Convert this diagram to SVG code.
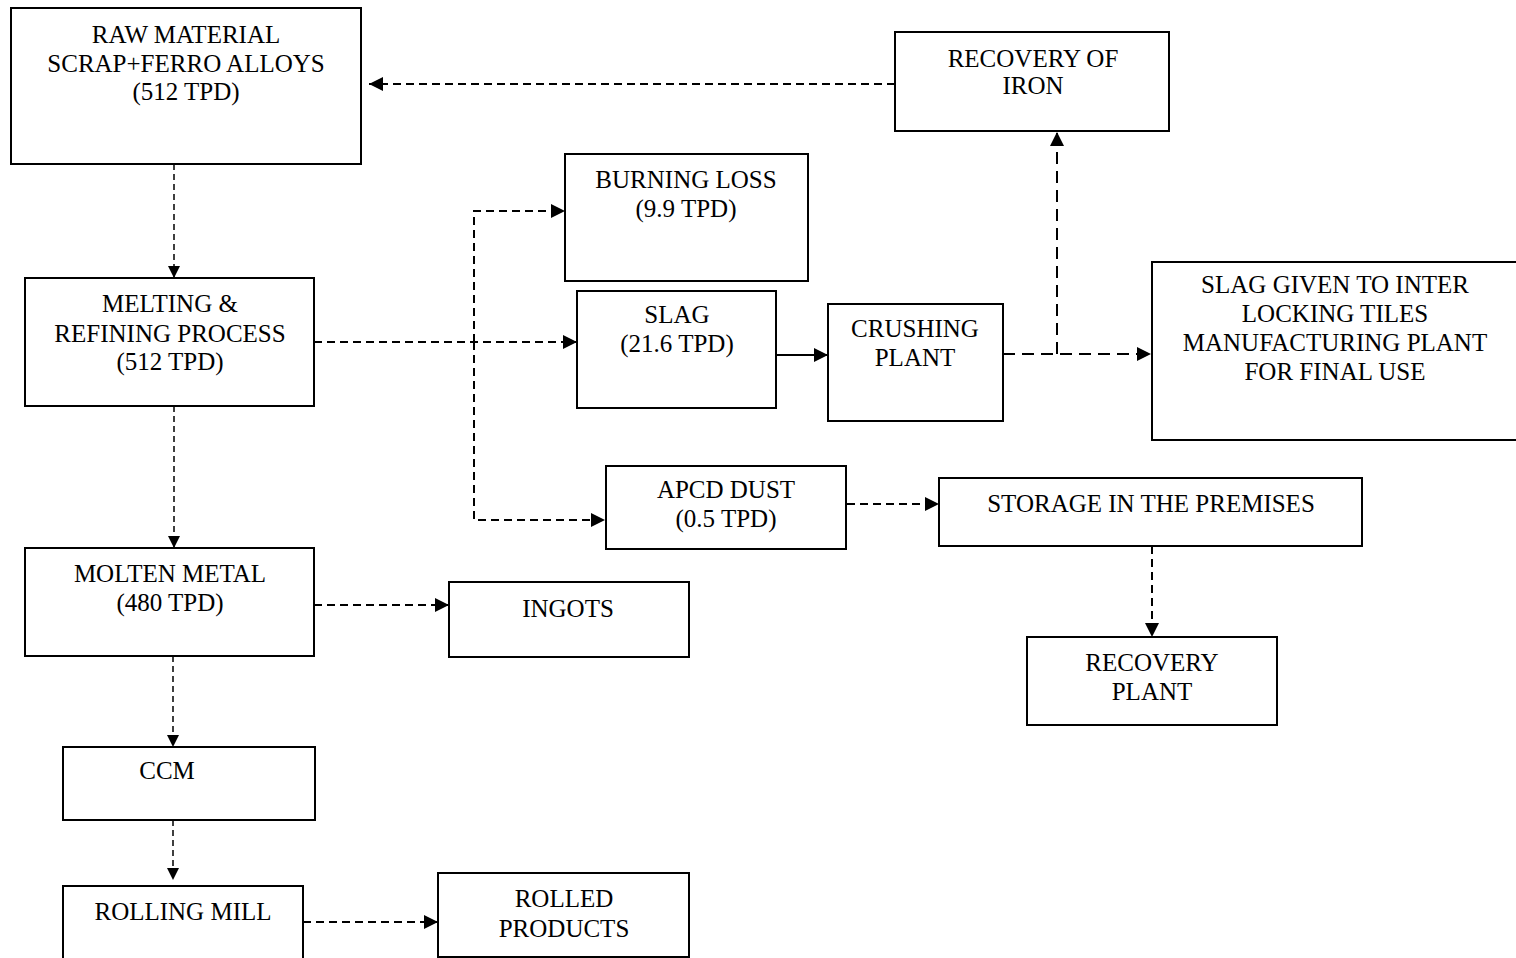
<svg xmlns="http://www.w3.org/2000/svg" width="1516" height="958" viewBox="0 0 1516 958">
<style>
.box{fill:#fff;stroke:#000;stroke-width:2}
text{font-family:"Liberation Serif","Times New Roman",serif;font-size:25px;fill:#000;text-anchor:middle}
.c{fill:none;stroke:#000;stroke-width:2}
.d{stroke-dasharray:8 5}
.dl{stroke-dasharray:12 7}
.dt{stroke-width:1.5;stroke-dasharray:6 4}
</style>
<defs>
<marker id="ah" markerUnits="userSpaceOnUse" markerWidth="14" markerHeight="14" refX="14" refY="7" orient="auto">
<path d="M0,0 L14,7 L0,14 z" fill="#000"/>
</marker>
<marker id="ahs" markerUnits="userSpaceOnUse" markerWidth="12" markerHeight="12" refX="12" refY="6" orient="auto">
<path d="M0,0 L12,6 L0,12 z" fill="#000"/>
</marker>
</defs>
<rect width="1516" height="958" fill="#fff"/>
<g id="connectors">
<path class="c d" d="M895,84 H369" marker-end="url(#ah)"/>
<path class="c dt" d="M174,164 V278" marker-end="url(#ahs)"/>
<path class="c d" d="M314,342 H577" marker-end="url(#ah)"/>
<path class="c d" d="M474,342 V211 H565" marker-end="url(#ah)"/>
<path class="c d" d="M474,342 V520 H605" marker-end="url(#ah)"/>
<path class="c" d="M776,355 H828" marker-end="url(#ah)"/>
<path class="c dl" d="M1003,354 H1151" marker-end="url(#ah)"/>
<path class="c dl" d="M1057,354 V132" marker-end="url(#ah)"/>
<path class="c d" d="M847,504 H939" marker-end="url(#ah)"/>
<path class="c d" d="M1152,546 V637" marker-end="url(#ah)"/>
<path class="c dt" d="M174,406 V548" marker-end="url(#ahs)"/>
<path class="c d" d="M314,605 H449" marker-end="url(#ah)"/>
<path class="c dt" d="M173,656 V747" marker-end="url(#ahs)"/>
<path class="c dt" d="M173,820 V880" marker-end="url(#ahs)"/>
<path class="c d" d="M303,922 H438" marker-end="url(#ah)"/>
</g>
<g id="raw-material">
<rect class="box" x="11" y="8" width="350" height="156"/>
<text x="186" y="43">RAW MATERIAL</text>
<text x="186" y="72">SCRAP+FERRO ALLOYS</text>
<text x="186" y="100">(512 TPD)</text>
</g>
<g id="recovery-of-iron">
<rect class="box" x="895" y="32" width="274" height="99"/>
<text x="1033" y="67">RECOVERY OF</text>
<text x="1033" y="94">IRON</text>
</g>
<g id="burning-loss">
<rect class="box" x="565" y="154" width="243" height="127"/>
<text x="686" y="188">BURNING LOSS</text>
<text x="686" y="217">(9.9 TPD)</text>
</g>
<g id="melting">
<rect class="box" x="25" y="278" width="289" height="128"/>
<text x="170" y="312">MELTING &amp;</text>
<text x="170" y="342">REFINING PROCESS</text>
<text x="170" y="370">(512 TPD)</text>
</g>
<g id="slag">
<rect class="box" x="577" y="291" width="199" height="117"/>
<text x="677" y="323">SLAG</text>
<text x="677" y="352">(21.6 TPD)</text>
</g>
<g id="crushing-plant">
<rect class="box" x="828" y="304" width="175" height="117"/>
<text x="915" y="337">CRUSHING</text>
<text x="915" y="366">PLANT</text>
</g>
<g id="slag-given">
<rect class="box" x="1152" y="262" width="420" height="178"/>
<text x="1335" y="293">SLAG GIVEN TO INTER</text>
<text x="1335" y="322">LOCKING TILES</text>
<text x="1335" y="351">MANUFACTURING PLANT</text>
<text x="1335" y="380">FOR FINAL USE</text>
</g>
<g id="apcd-dust">
<rect class="box" x="606" y="466" width="240" height="83"/>
<text x="726" y="498">APCD DUST</text>
<text x="726" y="527">(0.5 TPD)</text>
</g>
<g id="storage">
<rect class="box" x="939" y="478" width="423" height="68"/>
<text x="1151" y="512">STORAGE IN THE PREMISES</text>
</g>
<g id="recovery-plant">
<rect class="box" x="1027" y="637" width="250" height="88"/>
<text x="1152" y="671">RECOVERY</text>
<text x="1152" y="700">PLANT</text>
</g>
<g id="molten-metal">
<rect class="box" x="25" y="548" width="289" height="108"/>
<text x="170" y="582">MOLTEN METAL</text>
<text x="170" y="611">(480 TPD)</text>
</g>
<g id="ingots">
<rect class="box" x="449" y="582" width="240" height="75"/>
<text x="568" y="617">INGOTS</text>
</g>
<g id="ccm">
<rect class="box" x="63" y="747" width="252" height="73"/>
<text x="167" y="779">CCM</text>
</g>
<g id="rolling-mill">
<rect class="box" x="63" y="886" width="240" height="100"/>
<text x="183" y="920">ROLLING MILL</text>
</g>
<g id="rolled-products">
<rect class="box" x="438" y="873" width="251" height="84"/>
<text x="564" y="907">ROLLED</text>
<text x="564" y="937">PRODUCTS</text>
</g>
</svg>
